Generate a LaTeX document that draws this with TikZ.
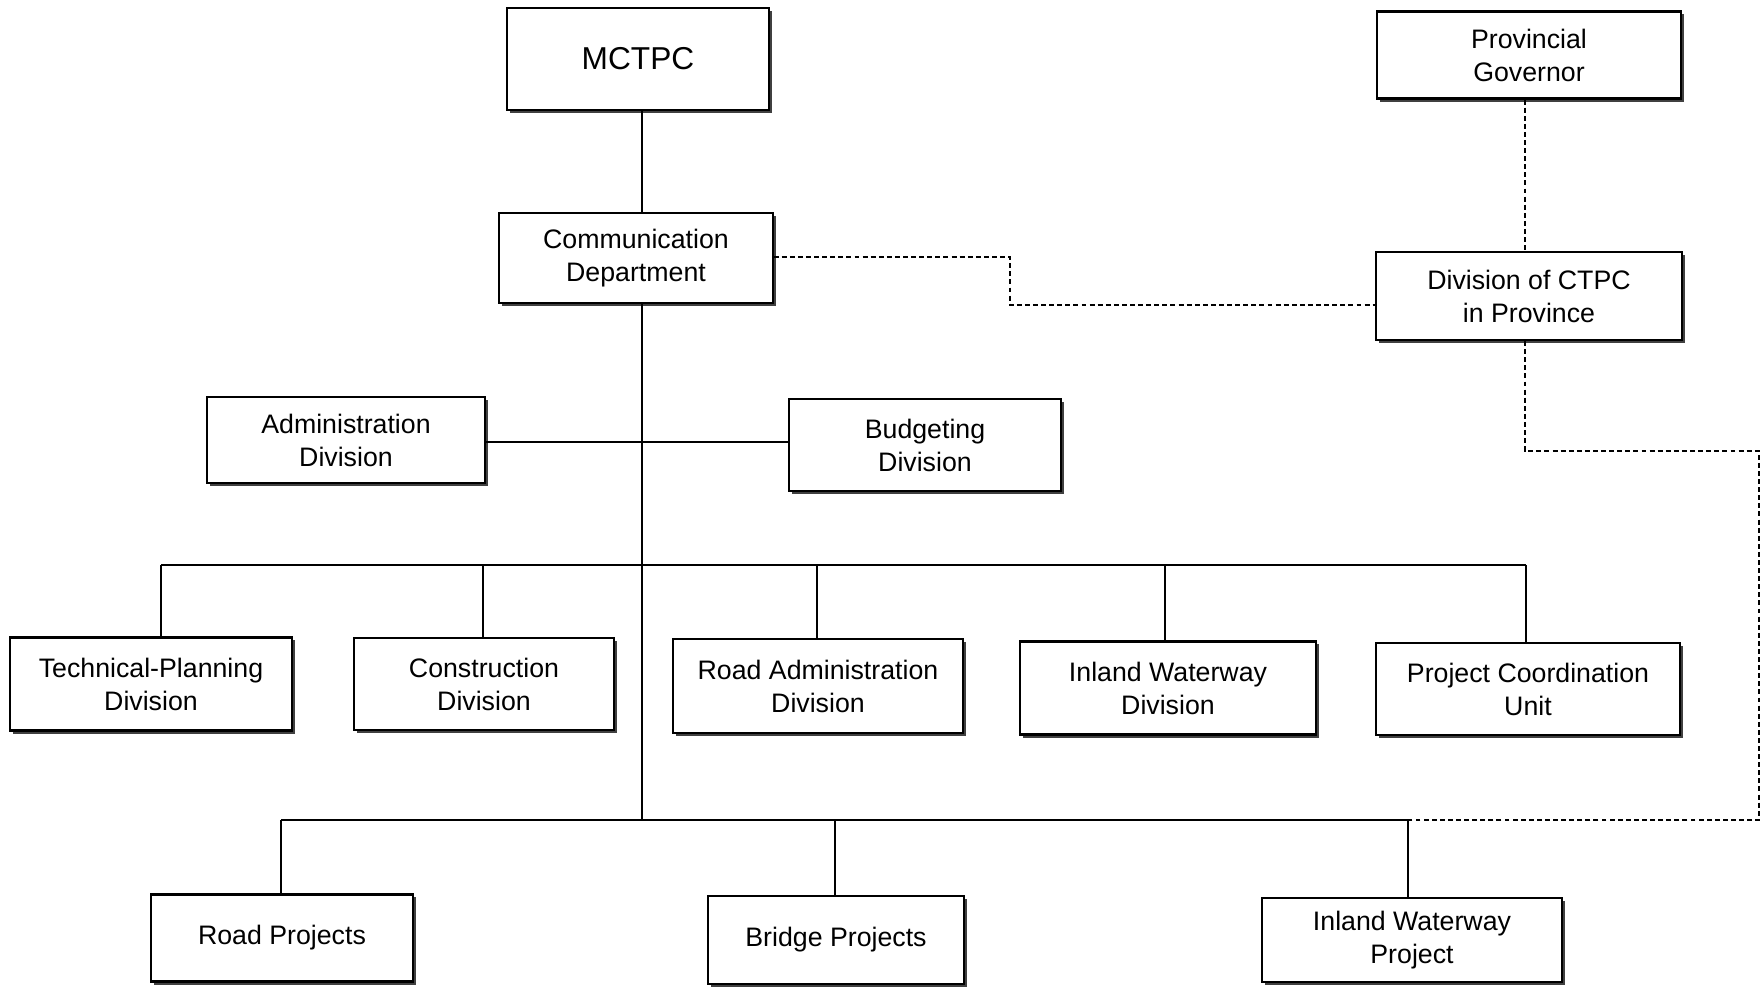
\documentclass[tikz,border=0pt]{standalone}
\usepackage{fontspec}
\setmainfont{Liberation Sans}
\usetikzlibrary{shadows}
\begin{document}
\begin{tikzpicture}[x=0.01cm,y=-0.01cm,
  box/.style={draw, line width=0.6pt, fill=white, align=center, inner sep=0pt,
    font=\fontsize{7.6}{9.4}\selectfont,
    general shadow={fill=black!75, shadow xshift=0.03cm, shadow yshift=-0.03cm}},
  conn/.style={line width=0.6pt},
  dconn/.style={line width=0.6pt, dash pattern=on 1.4pt off 0.9pt}]
\useasboundingbox[fill=white] (0,0) rectangle (1762,988);

% boxes
\node[box, minimum width=2.61cm, minimum height=1.02cm, font=\fontsize{9}{11}\selectfont] (mctpc) at (638,59) {MCTPC};
\node[box, minimum width=2.73cm, minimum height=0.90cm] (comm) at (636,258) {Communication\\Department};
\node[box, minimum width=3.04cm, minimum height=0.87cm] (pg) at (1529,55) {Provincial\\Governor};
\node[box, minimum width=3.05cm, minimum height=0.88cm] (div) at (1529,296) {Division of CTPC\\in Province};
\node[box, minimum width=2.78cm, minimum height=0.86cm] (admin) at (346,440) {Administration\\Division};
\node[box, minimum width=2.71cm, minimum height=0.92cm] (budget) at (925,445) {Budgeting\\Division};
\node[box, minimum width=2.81cm, minimum height=0.93cm] (tech) at (151,684) {Technical-Planning\\Division};
\node[box, minimum width=2.60cm, minimum height=0.92cm] (cons) at (484,684) {Construction\\Division};
\node[box, minimum width=2.89cm, minimum height=0.94cm] (roadadm) at (818,686) {Road Administration\\Division};
\node[box, minimum width=2.95cm, minimum height=0.93cm] (iwd) at (1168,688) {Inland Waterway\\Division};
\node[box, minimum width=3.04cm, minimum height=0.92cm] (pcu) at (1528,689) {Project Coordination\\Unit};
\node[box, minimum width=2.62cm, minimum height=0.87cm] (road) at (282,938) {Road Projects};
\node[box, minimum width=2.55cm, minimum height=0.88cm] (bridge) at (836,940) {Bridge Projects};
\node[box, minimum width=3.00cm, minimum height=0.84cm] (iwp) at (1412,940) {Inland Waterway\\Project};

% junction coordinates
\coordinate (sp) at (642,442);
\coordinate (j1) at (161,565);
\coordinate (j2) at (483,565);
\coordinate (j3) at (817,565);
\coordinate (j4) at (1165,565);
\coordinate (j5) at (1526,565);
\coordinate (js) at (642,565);
\coordinate (k1) at (281,820);
\coordinate (k2) at (835,820);
\coordinate (k3) at (1408,820);
\coordinate (ks) at (642,820);
\coordinate (d1) at (1010,257);
\coordinate (d2) at (1010,305);
\coordinate (v) at (1525,451);
\coordinate (e2) at (1759,451);
\coordinate (e3) at (1759,820);

% solid connectors
\draw[conn] (mctpc.south -| sp) -- (comm.north -| sp);
\draw[conn] (comm.south -| sp) -- (ks);
\draw[conn] (admin.east |- sp) -- (budget.west |- sp);
\draw[conn] (j1) -- (j5);
\draw[conn] (j1) -- (j1 |- tech.north);
\draw[conn] (j2) -- (j2 |- cons.north);
\draw[conn] (j3) -- (j3 |- roadadm.north);
\draw[conn] (j4) -- (j4 |- iwd.north);
\draw[conn] (j5) -- (j5 |- pcu.north);
\draw[conn] (k1) -- (k3);
\draw[conn] (k1) -- (k1 |- road.north);
\draw[conn] (k2) -- (k2 |- bridge.north);
\draw[conn] (k3) -- (k3 |- iwp.north);

% dashed connectors
\draw[dconn] (comm.east |- d1) -- (d1) -- (d2) -- (div.west |- d2);
\draw[dconn] (pg.south -| v) -- (div.north -| v);
\draw[dconn] (div.south -| v) -- (v) -- (e2) -- (e3) -- (k3);
\end{tikzpicture}
\end{document}
